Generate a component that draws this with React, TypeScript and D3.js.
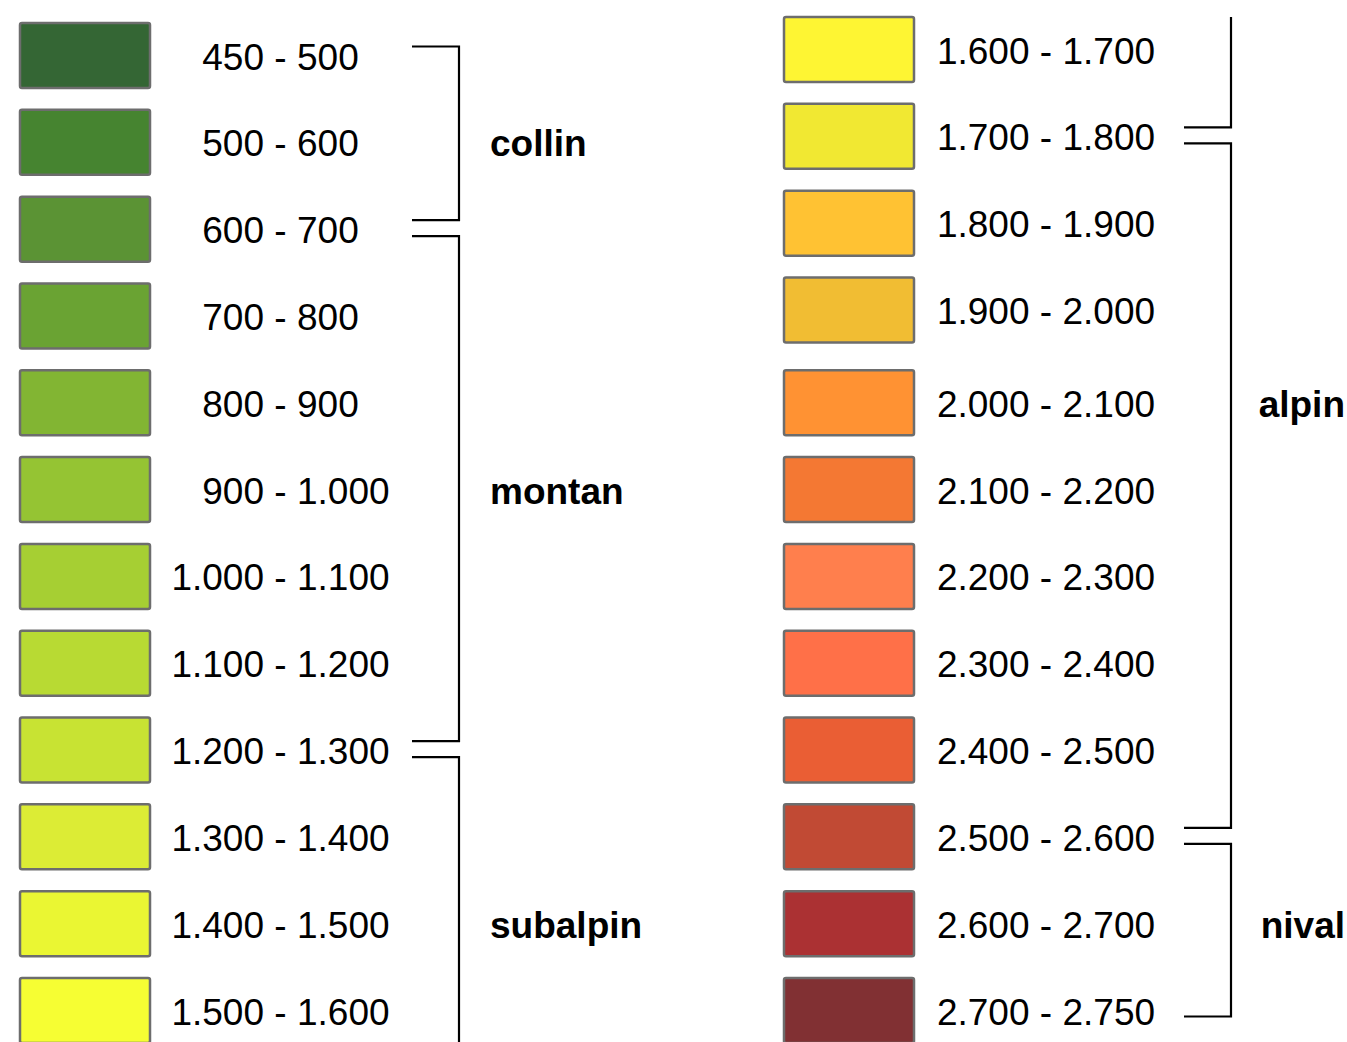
import * as d3 from 'd3';

// elevation classes (m), left column first, then right column
const lowerBounds = ['450', '500', '600', '700', '800', '900', '1.000', '1.100', '1.200', '1.300', '1.400', '1.500',
  '1.600', '1.700', '1.800', '1.900', '2.000', '2.100', '2.200', '2.300', '2.400', '2.500', '2.600', '2.700'];
const upperBounds = ['500', '600', '700', '800', '900', '1.000', '1.100', '1.200', '1.300', '1.400', '1.500', '1.600',
  '1.700', '1.800', '1.900', '2.000', '2.100', '2.200', '2.300', '2.400', '2.500', '2.600', '2.700', '2.750'];
const classColors = ['#346634', '#468430', '#5b9334', '#6aa333', '#82b533', '#95c433', '#a6cf33', '#b8da33',
  '#c8e333', '#dcec35', '#eaf633', '#f6fe33',
  '#fef533', '#f1e832', '#ffc233', '#f1bd33', '#ff9233', '#f47833', '#ff7f4d', '#ff7048',
  '#ea5e34', '#c14a34', '#ab3133', '#813033'];

// altitudinal zones: first / last class index, and the class the label sits beside
const zoneNames = ['collin', 'montan', 'subalpin', 'alpin', 'nival'];
const zoneFirst = [0, 2, 8, 13, 21];
const zoneLast = [2, 8, 13, 21, 23];
const zoneLabelAt = [1, 5, 10, 16, 22];

const W = 1347;
const H = 1042;
const PER_COL = 12;
const swatchW = 130;
const swatchH = 65;
const colX = [20, 784];
const dashX = [280.5, 1046];
const bracketX = [459, 1231];
const tickLen = 47;
const font = '"Liberation Sans", Arial, sans-serif';
const fontSize = 37;

const rowY = d3.scaleLinear().domain([0, PER_COL - 1]).range([23, 978]);

const col = (i: number) => Math.floor(i / PER_COL);
const top = (i: number) => {
  const c = col(i);
  const r = i % PER_COL;
  return rowY(r) - (c === 1 && r < 4 ? 6 : 0);
};
const mid = (i: number) => top(i) + swatchH / 2;

export default function App() {
  const brackets: string[] = [];
  zoneNames.forEach((_, z) => {
    const f = zoneFirst[z];
    const l = zoneLast[z];
    const sharedStart = z > 0 && zoneLast[z - 1] === f;
    const sharedEnd = z < zoneNames.length - 1 && zoneFirst[z + 1] === l;
    const y1 = sharedStart ? mid(f) + 7 : mid(f) - 9;
    const y2 = sharedEnd ? mid(l) - 9 : mid(l) + 6;
    const cf = col(f);
    const cl = col(l);
    if (cf === cl) {
      const bx = bracketX[cf];
      brackets.push(`M${bx - tickLen},${y1}H${bx}V${y2}H${bx - tickLen}`);
    } else {
      const bx0 = bracketX[cf];
      brackets.push(`M${bx0 - tickLen},${y1}H${bx0}V${H}`);
      const bx1 = bracketX[cl];
      brackets.push(`M${bx1},${top(cl * PER_COL)}V${y2}H${bx1 - tickLen}`);
    }
  });

  return (
    <svg width={W} height={H} viewBox={`0 0 ${W} ${H}`}
      style={{ position: 'absolute', left: 0, top: 0, background: '#fff' }}
      fontFamily={font} fontSize={fontSize}>
      {classColors.map((c, i) => (
        <g key={i}>
          <rect x={colX[col(i)]} y={top(i)} width={swatchW} height={swatchH} rx={2}
            fill={c} stroke="#6d6d6d" strokeWidth={2.5} />
          <text x={dashX[col(i)] - 16.5} y={mid(i) + 14} textAnchor="end">{lowerBounds[i]}</text>
          <text x={dashX[col(i)]} y={mid(i) + 14} textAnchor="middle">-</text>
          <text x={dashX[col(i)] + 16.5} y={mid(i) + 14} textAnchor="start">{upperBounds[i]}</text>
        </g>
      ))}
      {brackets.map((d, i) => (
        <path key={i} d={d} fill="none" stroke="#000" strokeWidth={2.2} />
      ))}
      {zoneNames.map((n, z) => {
        const r = zoneLabelAt[z];
        const right = col(r) === 1;
        return (
          <text key={n} x={right ? 1345 : 490} y={mid(r) + 14} fontWeight="bold"
            textAnchor={right ? 'end' : 'start'}>{n}</text>
        );
      })}
    </svg>
  );
}
